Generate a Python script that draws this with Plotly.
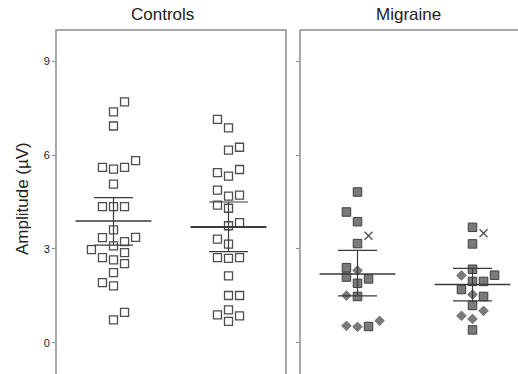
import plotly.graph_objects as go

# ---- data ----
ctrl_a = [7.70, 7.38, 6.93, 5.61, 5.55, 5.61, 5.82, 5.07, 4.35, 4.35, 4.35, 3.61, 3.36, 3.37,
          3.23, 3.10, 2.98, 2.72, 2.65, 2.88, 2.53, 2.24, 1.92, 1.82, 0.73, 0.97]
ctrl_a_col = [1, 0, 0, -1, 0, 1, 2, 0, -1, 0, 1, 0, -1, 2,
              1, 0, -2, -1, 0, 1, 1, 0, -1, 0, 0, 1]
ctrl_b = [7.14, 6.87, 6.16, 6.25, 5.44, 5.33, 5.54, 4.88, 4.69, 4.72, 4.40, 4.30, 3.74, 3.84,
          3.31, 3.15, 2.72, 2.70, 2.72, 2.14, 1.51, 1.51, 0.89, 1.05, 0.86, 0.68]
ctrl_b_col = [-1, 0, 0, 1, -1, 0, 1, -1, 0, 1, -1, 0, 0, 1,
              -1, 0, -1, 0, 1, 0, 0, 1, -1, 0, 1, 0]

mig_a_sq = [4.82, 4.18, 3.87, 3.17, 2.40, 2.10, 2.04, 1.90, 1.48, 0.52]
mig_a_sq_col = [0, -1, 0, 0, -1, -1, 1, 0, 0, 1]
mig_a_di = [2.31, 1.51, 0.54, 0.51, 0.70]
mig_a_di_col = [0, -1, -1, 0, 2]
mig_a_x = [3.42]
mig_a_x_col = [1]

mig_b_sq = [3.69, 3.16, 2.35, 2.16, 1.96, 1.96, 1.70, 1.48, 1.19, 0.41]
mig_b_sq_col = [0, 0, 0, 2, 0, 1, -1, 1, 0, 0]
mig_b_di = [2.15, 1.54, 1.02, 0.86, 0.76]
mig_b_di_col = [-1, 0, 1, -1, 0]
mig_b_x = [3.50]
mig_b_x_col = [1]

ctrl_mean = [3.89, 3.70]
ctrl_hi = [4.64, 4.50]
ctrl_lo = [3.12, 2.91]
mig_mean = [2.20, 1.86]
mig_hi = [2.95, 2.38]
mig_lo = [1.50, 1.34]

y_ticks = [0, 3, 6, 9]
panel_titles = ["Controls", "Migraine"]
y_title = "Amplitude (µV)"

# ---- styling ----
STEP = 0.096
HALF_MEAN = 0.33
FONT = "Liberation Sans, Arial, sans-serif"
AXC = "#8a8a8a"
LINEC = "#3a3a3a"

fig = go.Figure()


def xs(center, cols):
    return [center + c * STEP for c in cols]


def add_pts(vals, cols, center, xa, ya, symbol, fill, line, size, lw):
    fig.add_trace(go.Scatter(
        x=xs(center, cols), y=vals, mode="markers", xaxis=xa, yaxis=ya,
        marker=dict(symbol=symbol, size=size, color=fill,
                    line=dict(color=line, width=lw)),
        showlegend=False, hoverinfo="y"))


def add_summary(center, m, hi, lo, xa, ya, lw):
    fig.add_trace(go.Scatter(
        x=[center - HALF_MEAN, center + HALF_MEAN], y=[m, m], mode="lines",
        xaxis=xa, yaxis=ya, line=dict(color=LINEC, width=lw),
        showlegend=False, hoverinfo="skip"))
    fig.add_trace(go.Scatter(
        x=[center], y=[m], mode="markers", xaxis=xa, yaxis=ya,
        marker=dict(size=0.1, color=LINEC),
        error_y=dict(type="data", symmetric=False, array=[hi - m], arrayminus=[m - lo],
                     color=LINEC, thickness=1.2, width=19.5),
        showlegend=False, hoverinfo="skip"))


# Controls
add_pts(ctrl_a, ctrl_a_col, 0, "x", "y", "square", "white", "#4d4d4d", 8, 1.3)
add_pts(ctrl_b, ctrl_b_col, 1, "x", "y", "square", "white", "#4d4d4d", 8, 1.3)
add_summary(0, ctrl_mean[0], ctrl_hi[0], ctrl_lo[0], "x", "y", 1.5)
add_summary(1, ctrl_mean[1], ctrl_hi[1], ctrl_lo[1], "x", "y", 2)

# Migraine
add_pts(mig_a_sq, mig_a_sq_col, 0, "x2", "y2", "square", "#7a7a7a", "#3f3f3f", 8.5, 1)
add_pts(mig_a_di, mig_a_di_col, 0, "x2", "y2", "diamond", "#7a7a7a", "#555555", 7.5, 0.6)
add_pts(mig_a_x, mig_a_x_col, 0, "x2", "y2", "x-thin", "#4d4d4d", "#4d4d4d", 8, 1.3)
add_pts(mig_b_sq, mig_b_sq_col, 1, "x2", "y2", "square", "#7a7a7a", "#3f3f3f", 8.5, 1)
add_pts(mig_b_di, mig_b_di_col, 1, "x2", "y2", "diamond", "#7a7a7a", "#555555", 7.5, 0.6)
add_pts(mig_b_x, mig_b_x_col, 1, "x2", "y2", "x-thin", "#4d4d4d", "#4d4d4d", 8, 1.3)
add_summary(0, mig_mean[0], mig_hi[0], mig_lo[0], "x2", "y2", 1.5)
add_summary(1, mig_mean[1], mig_hi[1], mig_lo[1], "x2", "y2", 1.5)

W, H = 518, 374
L, R, T, B = 56, 0, 30, 0
pw = W - L - R
d1 = [0, 230 / pw]
d2 = [244 / pw, 1]
span2 = (pw - 244) / 115.0

yax = dict(range=[-1, 10], tickvals=y_ticks, ticks="outside", ticklen=3, tickwidth=1.2,
           tickcolor=AXC, showgrid=False, zeroline=False, showline=False,
           tickfont=dict(family=FONT, size=11, color="#222"))

fig.update_layout(
    width=W, height=H, margin=dict(l=L, r=R, t=T, b=B),
    paper_bgcolor="white", plot_bgcolor="white",
    xaxis=dict(domain=d1, range=[-0.5, 1.5], visible=False),
    xaxis2=dict(domain=d2, range=[-0.5, -0.5 + span2], visible=False),
    yaxis=dict(**yax, anchor="x"),
    yaxis2=dict(**yax, anchor="x2", showticklabels=False),
)

# panel frames
frame = dict(color=AXC, width=1.5)
fig.add_shape(type="rect", xref="x domain", yref="y domain", x0=0, x1=1, y0=-0.01, y1=1,
              line=frame, fillcolor="rgba(0,0,0,0)")
fig.add_shape(type="line", xref="x2 domain", yref="y2 domain", x0=0, x1=0, y0=-0.01, y1=1,
              line=frame)
fig.add_shape(type="line", xref="x2 domain", yref="y2 domain", x0=0, x1=1.01, y0=1, y1=1,
              line=frame)

# titles
fig.add_annotation(text=panel_titles[0], xref="paper", yref="paper",
                   x=(162 - L) / pw, y=(H - 15) / (H - T - B), showarrow=False,
                   font=dict(family=FONT, size=17, color="#222"), xanchor="center", yanchor="middle")
fig.add_annotation(text=panel_titles[1], xref="paper", yref="paper",
                   x=(408 - L) / pw, y=(H - 15) / (H - T - B), showarrow=False,
                   font=dict(family=FONT, size=17, color="#222"), xanchor="center", yanchor="middle")
fig.add_annotation(text=y_title, xref="paper", yref="paper",
                   x=(22 - L) / pw, y=(H - 199) / (H - T - B), showarrow=False, textangle=-90,
                   font=dict(family=FONT, size=17, color="#222"), xanchor="center", yanchor="middle")

fig.write_html("out.html", config={"displayModeBar": False},
               post_script="document.body.style.margin='0';")
